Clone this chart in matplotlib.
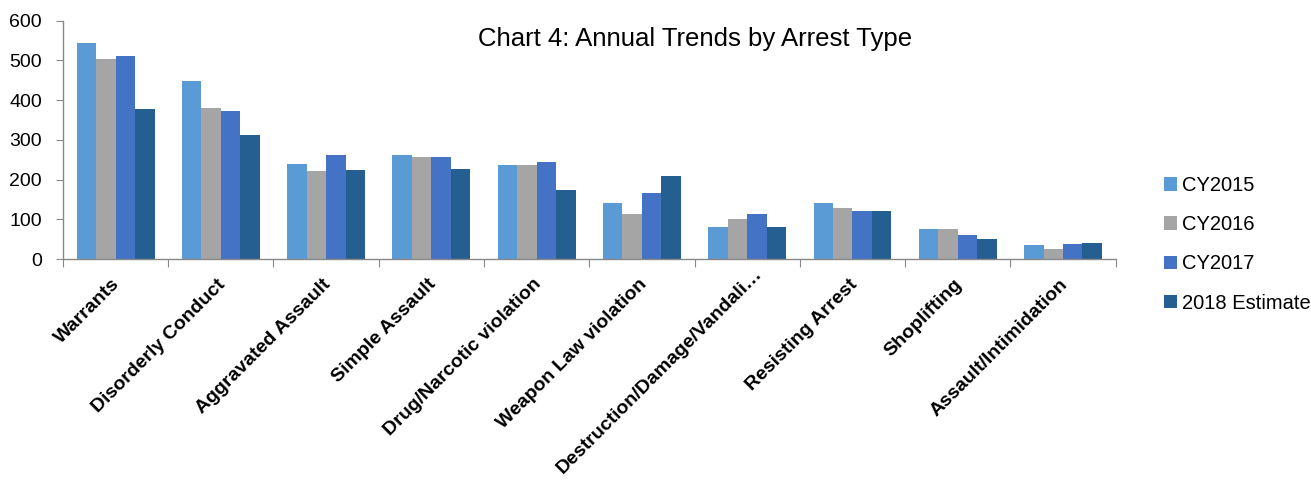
import numpy as np
import matplotlib
matplotlib.use("Agg")
import matplotlib.pyplot as plt
from matplotlib.transforms import ScaledTranslation, Affine2D

plt.rcParams['font.family'] = ['Liberation Sans', 'DejaVu Sans']

categories = ["Warrants", "Disorderly Conduct", "Aggravated Assault", "Simple Assault",
              "Drug/Narcotic violation", "Weapon Law violation",
              "Destruction/Damage/Vandali\u2026", "Resisting Arrest", "Shoplifting",
              "Assault/Intimidation"]
cy2015 = [543, 449, 240, 261, 237, 141, 82, 141, 75, 36]
cy2016 = [504, 380, 222, 256, 237, 114, 101, 128, 75, 25]
cy2017 = [511, 372, 261, 256, 244, 167, 114, 121, 60, 38]
est2018 = [377, 312, 225, 227, 174, 208, 82, 121, 51, 41]
series_names = ["CY2015", "CY2016", "CY2017", "2018 Estimate"]
colors = ["#5B9BD5", "#A5A5A5", "#4472C4", "#255E91"]
yticks = [0, 100, 200, 300, 400, 500, 600]

fig = plt.figure(figsize=(13.11, 4.80), dpi=100)
ax = fig.add_axes([0.048, 0.46, 0.803, 0.497])

x = np.arange(len(categories))
width = 0.185
series = [cy2015, cy2016, cy2017, est2018]
handles = []
for i, (vals, name, c) in enumerate(zip(series, series_names, colors)):
    h = ax.bar(x + (i - 1.5) * width, vals, width, color=c, label=name)
    handles.append(h)

ax.set_xlim(-0.5, len(categories) - 0.5)
ax.set_ylim(0, 600)
ax.set_yticks(yticks)
ax.set_yticklabels([str(t) for t in yticks], fontsize=14)

# category boundary ticks on x axis
ax.set_xticks(np.arange(len(categories) + 1) - 0.5)
ax.set_xticklabels([])
ax.tick_params(axis='x', length=6, color='#888888', direction='out')
ax.tick_params(axis='y', length=5, color='#888888', direction='out', pad=10)

label_shift = ScaledTranslation(-0.04, -0.165, fig.dpi_scale_trans)
cat_labels = []
for i, lab in enumerate(categories):
    t = ax.text(i, 0, lab, rotation=45, ha='right', va='top', rotation_mode='anchor',
                fontsize=14, fontweight='bold',
                transform=ax.get_xaxis_transform() + label_shift)
    cat_labels.append(t)

for s in ['top', 'right']:
    ax.spines[s].set_visible(False)
for s in ['left', 'bottom']:
    ax.spines[s].set_color('#888888')
    ax.spines[s].set_linewidth(1.0)

fig.text(0.530, 0.918, "Chart 4: Annual Trends by Arrest Type", ha='center', va='center', fontsize=18.5)

leg = fig.legend(handles=handles, labels=series_names, loc='center left',
                 bbox_to_anchor=(0.874, 0.491), frameon=False, fontsize=14.5,
                 handlelength=0.65, handleheight=0.65, handletextpad=0.25, labelspacing=1.0)

# slide any long category label up along its own direction so it stays inside the figure
renderer = fig.canvas.get_renderer()
for t in cat_labels:
    bb = t.get_window_extent(renderer)
    overflow = 3 - bb.y0
    if overflow > 0:
        t.set_transform(t.get_transform() + Affine2D().translate(overflow, overflow))

fig.savefig("out.png", dpi=100)
